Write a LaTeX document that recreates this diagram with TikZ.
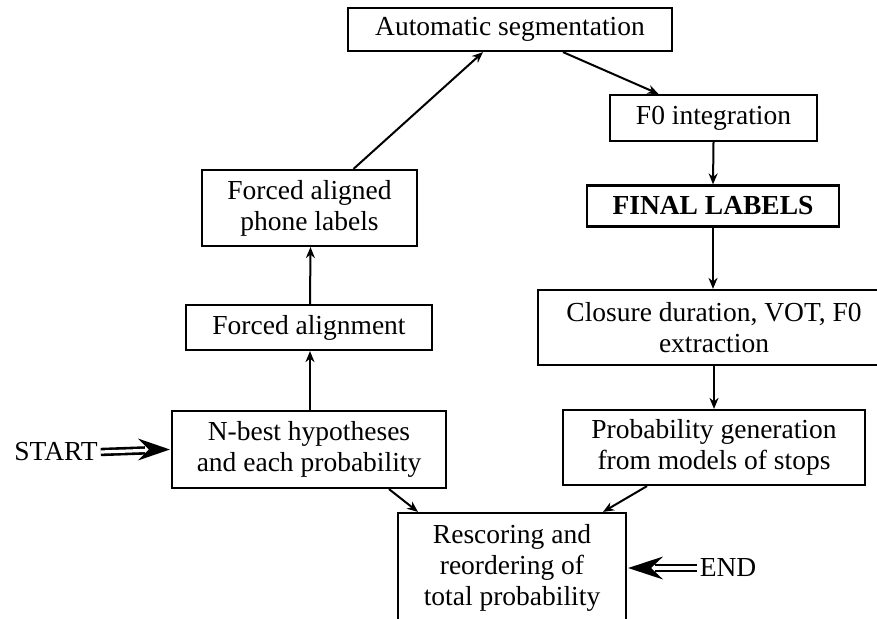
\documentclass[tikz,border=0pt]{standalone}
\usepackage{fontspec}
\setmainfont{Liberation Serif}
\usetikzlibrary{arrows.meta}
\begin{document}
\begin{tikzpicture}[x=1pt,y=-1pt,
  box/.style={draw, line width=2.2pt, rectangle, inner sep=0pt, align=center,
    font=\fontsize{27.5}{31}\selectfont},
  lbl/.style={inner sep=3pt, font=\fontsize{27.5}{31}\selectfont},
  arr/.style={line width=2pt, -{Stealth[length=11pt,width=9pt]}},
  dblline/.style={line width=2.6pt, double distance=3.2pt}
]
\clip (0,0) rectangle (877,618);
\fill[white] (0,0) rectangle (877,618);

\node[box, minimum width=324pt, minimum height=43pt] (seg) at (510,29.5) {Automatic segmentation};
\node[box, minimum width=207pt, minimum height=46pt] (f0) at (713.5,118) {F0 integration};
\node[box, minimum width=252pt, minimum height=41pt] (final) at (713,206) {\bfseries FINAL LABELS};
\node[box, minimum width=352pt, minimum height=75pt] (closure) at (714,327.5) {Closure duration, VOT, F0\\extraction};
\node[box, minimum width=302pt, minimum height=75pt] (prob) at (714,447.5) {Probability generation\\from models of stops};
\node[box, minimum width=228pt, minimum height=110pt] (rescore) at (512,568) {Rescoring and\\reordering of\\total probability};
\node[box, minimum width=274pt, minimum height=77pt] (nbest) at (309,449.5) {N-best hypotheses\\and each probability};
\node[box, minimum width=246pt, minimum height=45pt] (falign) at (309,327.5) {Forced alignment};
\node[box, minimum width=215pt, minimum height=76pt] (fapl) at (309.5,208) {Forced aligned\\phone labels};

\node[lbl] (start) at (56,452) {START};
\node[lbl] (end) at (728,568) {END};

% connectors
\draw[arr] ([xshift=1pt]nbest.north) -- ([xshift=1pt]falign.south);
\draw[arr] ([xshift=1pt]falign.north) -- ([xshift=1pt]fapl.south);
\draw[arr] ([xshift=44pt]fapl.north) -- ([xshift=-27pt]seg.south);
\draw[arr] ([xshift=53pt]seg.south) -- ([xshift=-55pt]f0.north);
\draw[arr] (f0.south) -- (final.north);
\draw[arr] (final.south) -- ([xshift=-1pt]closure.north);
\draw[arr] (closure.south) -- (prob.north);
\draw[arr] ([xshift=80pt]nbest.south) -- ([xshift=-94pt]rescore.north);
\draw[arr] ([xshift=-67pt]prob.south) -- ([xshift=91pt]rescore.north);

% START / END double arrows
\draw[dblline, shorten >=26pt] (start.east) -- (nbest.west);
\fill ([xshift=-1pt]nbest.west) -- ++(-32,-11) -- ++(11,11) -- ++(-11,11) -- cycle;
\draw[dblline, shorten >=28pt] (end.west) -- (rescore.east);
\fill ([xshift=1pt]rescore.east) -- ++(35,-11.5) -- ++(-12,11.5) -- ++(12,11.5) -- cycle;
\end{tikzpicture}
\end{document}
